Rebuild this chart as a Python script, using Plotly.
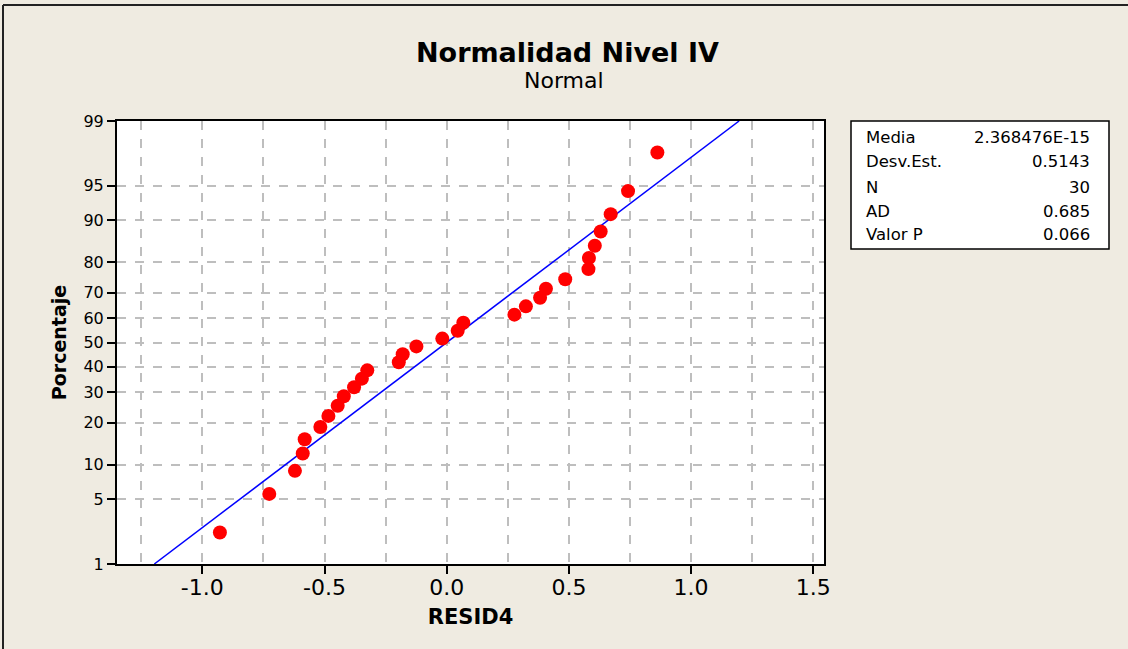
import plotly.graph_objects as go
from statistics import NormalDist

# residuals (x) and plotted percentages (y)
resid = [-0.928, -0.726, -0.621, -0.589, -0.581, -0.517, -0.484, -0.446, -0.421, -0.379,
         -0.347, -0.325, -0.196, -0.180, -0.124, -0.018, 0.045, 0.068, 0.277, 0.324,
         0.382, 0.406, 0.485, 0.580, 0.582, 0.606, 0.630, 0.671, 0.742, 0.862]
pct = [2.30, 5.59, 8.88, 12.17, 15.46, 18.75, 22.04, 25.33, 28.62, 31.91,
       35.20, 38.49, 41.78, 45.07, 48.36, 51.64, 54.93, 58.22, 61.51, 64.80,
       68.09, 71.38, 74.67, 77.96, 81.25, 84.54, 87.83, 91.12, 94.41, 97.70]

pct_ticks = [1, 5, 10, 20, 30, 40, 50, 60, 70, 80, 90, 95, 99]
x_ticks = [-1.0, -0.5, 0.0, 0.5, 1.0, 1.5]
x_minor = [-1.25, -0.75, -0.25, 0.25, 0.75, 1.25]

stat_labels = ["Media", "Desv.Est.", "N", "AD", "Valor P"]
stat_values = ["2.368476E-15", "0.5143", "30", "0.685", "0.066"]
media = 2.368476e-15
desv = 0.5143

nd = NormalDist()


def probit(p):
    return nd.inv_cdf(p / 100.0)


# plot area in pixels (figure is 1128x649)
L, R, T, B = 117, 824, 121, 564
W, H = 1128, 649


def px(x):
    return (x - L) / (R - L)


def py(y):
    return (B - y) / (B - T)


FONT = "DejaVu Sans"
BG = "#EFEBE1"

fig = go.Figure()

# fitted normal line
z_lo, z_hi = probit(pct_ticks[0]), probit(pct_ticks[-1])
fig.add_trace(go.Scatter(
    x=[media + desv * z_lo, media + desv * z_hi],
    y=[z_lo, z_hi],
    mode="lines",
    line=dict(color="#0000FF", width=1.5),
    hoverinfo="skip",
))

# data points
fig.add_trace(go.Scatter(
    x=resid,
    y=[probit(p) for p in pct],
    mode="markers",
    marker=dict(color="#FF0000", size=14, line=dict(width=0)),
    text=[f"{p:.1f}" for p in pct],
))

grid = dict(gridcolor="#BEBEBE", gridwidth=1.5, griddash="dash")

fig.update_xaxes(
    range=[(L - 446.7) / 244.4, (R - 446.7) / 244.4],
    tickmode="array",
    tickvals=x_ticks,
    ticktext=[f"{v:.1f}".replace("-0.0", "0.0") for v in x_ticks],
    ticks="outside", ticklen=8, tickwidth=1.5, tickcolor="black",
    ticklabelstandoff=-5,
    tickfont=dict(family=FONT, size=22, color="black"),
    showgrid=True, **grid,
    minor=dict(tickvals=x_minor, showgrid=True, ticks="", **grid),
    zeroline=False,
    showline=True, mirror=True, linecolor="black", linewidth=2,
    title=dict(text="<b>RESID4</b>", font=dict(family=FONT, size=21, color="black"), standoff=10),
)

fig.update_yaxes(
    range=[z_lo, z_hi],
    tickmode="array",
    tickvals=[probit(p) for p in pct_ticks],
    ticktext=[str(p) for p in pct_ticks],
    ticks="outside", ticklen=8, tickwidth=1.5, tickcolor="black",
    tickfont=dict(family=FONT, size=16, color="black"),
    showgrid=True, **grid,
    zeroline=False,
    showline=True, mirror=True, linecolor="black", linewidth=2,
    title=dict(text="<b>Porcentaje</b>", font=dict(family=FONT, size=19, color="black"), standoff=12),
)

# title and subtitle
fig.add_annotation(text="<b>Normalidad Nivel IV</b>", xref="paper", yref="paper",
                   x=px(567), y=py(52), xanchor="center", yanchor="middle", showarrow=False,
                   font=dict(family=FONT, size=27, color="black"))
fig.add_annotation(text="Normal", xref="paper", yref="paper",
                   x=px(564), y=py(80), xanchor="center", yanchor="middle", showarrow=False,
                   font=dict(family=FONT, size=22, color="black"))

# stats box
fig.add_shape(type="rect", xref="paper", yref="paper",
              x0=px(851), x1=px(1109), y0=py(249), y1=py(121),
              line=dict(color="black", width=1.5), fillcolor="white", layer="below")
row_y = [137, 162, 187, 211, 235]
for lab, val, ry in zip(stat_labels, stat_values, row_y):
    fig.add_annotation(text=lab, xref="paper", yref="paper", x=px(864), y=py(ry),
                       xanchor="left", yanchor="middle", showarrow=False,
                       font=dict(family=FONT, size=16.5, color="black"))
    fig.add_annotation(text=val, xref="paper", yref="paper", x=px(1092), y=py(ry),
                       xanchor="right", yanchor="middle", showarrow=False,
                       font=dict(family=FONT, size=16.5, color="black"))

# outer frame (left and top edges only are visible)
fig.add_shape(type="line", xref="paper", yref="paper", x0=px(3), x1=px(3), y0=py(5), y1=py(660),
              line=dict(color="#222222", width=2))
fig.add_shape(type="line", xref="paper", yref="paper", x0=px(3), x1=px(1140), y0=py(5), y1=py(5),
              line=dict(color="#222222", width=2))

fig.update_layout(
    width=W, height=H,
    margin=dict(l=L, r=W - R, t=T, b=H - B),
    paper_bgcolor=BG,
    plot_bgcolor="white",
    showlegend=False,
)

fig.write_html("out.html", config={"displayModeBar": False},
               post_script="document.body.style.margin='0';")
